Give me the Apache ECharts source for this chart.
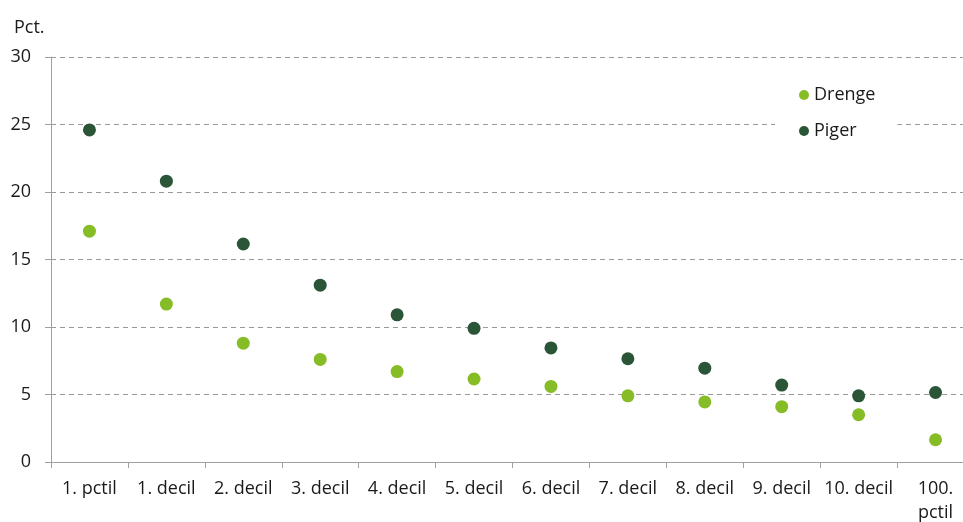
<!DOCTYPE html>
<html>
<head>
<meta charset="utf-8">
<script src="https://cdn.jsdelivr.net/npm/echarts@6/dist/echarts.min.js"></script>
<style>
  html, body { margin: 0; padding: 0; background: #fff; overflow: hidden; }
  .demo { width: 980px; height: 522px; }
</style>
</head>
<body>
<div class="demo"></div>
<script>
const categories = ['1. pctil', '1. decil', '2. decil', '3. decil', '4. decil', '5. decil',
  '6. decil', '7. decil', '8. decil', '9. decil', '10. decil', '100.\npctil']
const drenge = [17.1, 11.7, 8.8, 7.6, 6.7, 6.15, 5.6, 4.9, 4.45, 4.1, 3.5, 1.65]
const piger = [24.6, 20.8, 16.15, 13.1, 10.9, 9.9, 8.45, 7.65, 6.95, 5.7, 4.9, 5.15]
const yTicks = { min: 0, max: 30, interval: 5 }

let myChart = echarts.init(document.querySelector('.demo'))

const font = 'Open Sans'

let option = {
  animation: false,
  textStyle: { fontFamily: font },
  title: {
    text: 'Pct.',
    left: 9,
    top: 14,
    textStyle: { fontFamily: font, fontSize: 18, fontWeight: 'normal', color: '#1a1a1a' }
  },
  legend: {
    orient: 'vertical',
    left: 775,
    top: 76,
    padding: [10, 22, 10, 24],
    backgroundColor: '#fff',
    itemGap: 18,
    icon: 'circle',
    itemWidth: 10,
    itemHeight: 10,
    textStyle: { fontFamily: font, fontSize: 18, color: '#1a1a1a' },
    data: ['Drenge', 'Piger']
  },
  grid: { left: 51, top: 57, width: 923, height: 405, outerBoundsMode: 'none' },
  xAxis: {
    type: 'category',
    data: categories,
    axisLine: { lineStyle: { color: '#a0a0a0', width: 1 } },
    axisTick: { show: true, length: 6, lineStyle: { color: '#a0a0a0' } },
    axisLabel: {
      interval: 0,
      margin: 15,
      fontFamily: font,
      fontSize: 18,
      lineHeight: 24,
      color: '#1a1a1a'
    }
  },
  yAxis: {
    type: 'value',
    min: yTicks.min,
    max: yTicks.max,
    interval: yTicks.interval,
    axisLine: { show: true, lineStyle: { color: '#a0a0a0', width: 1 } },
    axisTick: { show: true, length: 6, lineStyle: { color: '#a0a0a0' } },
    axisLabel: { margin: 20, fontFamily: font, fontSize: 18, color: '#1a1a1a' },
    splitLine: { lineStyle: { color: '#999', type: [5, 4], width: 1 } }
  },
  series: [
    {
      name: 'Drenge',
      type: 'scatter',
      symbolSize: 13,
      itemStyle: { color: '#86bc25', opacity: 1 },
      data: drenge,
      z: 3
    },
    {
      name: 'Piger',
      type: 'scatter',
      symbolSize: 13,
      itemStyle: { color: '#2a5537', opacity: 1 },
      data: piger,
      z: 3
    }
  ]
}

myChart.setOption(option)
</script>
</body>
</html>
